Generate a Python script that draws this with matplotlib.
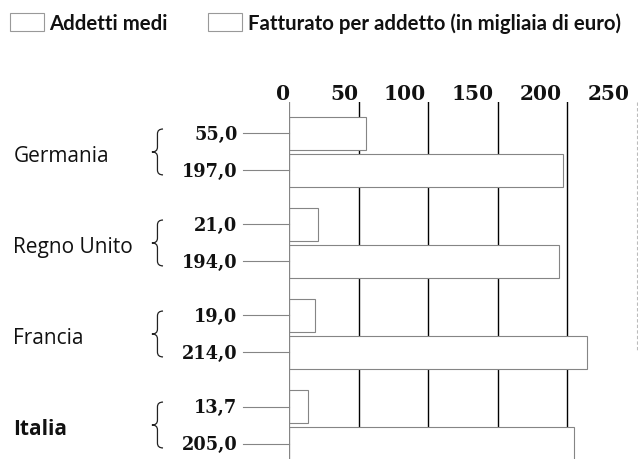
import matplotlib
matplotlib.use('Agg')
import matplotlib.pyplot as plt
from matplotlib.path import Path
from matplotlib.patches import PathPatch, Rectangle

# data
countries = ['Germania', 'Regno Unito', 'Francia', 'Italia']
addetti = [55.0, 21.0, 19.0, 13.7]
fatturato = [197.0, 194.0, 214.0, 205.0]
ticks = [0, 50, 100, 150, 200, 250]
series_labels = ['Addetti medi', 'Fatturato per addetto (in migliaia di euro)']

W, H = 638, 460
fig = plt.figure(figsize=(W / 100, H / 100), dpi=100)
fig.patch.set_facecolor('white')

# axes placed in pixel terms: x=0 at 289px, 250 at 637px; top at 103px
ax_left, ax_right, ax_top, ax_bot = 289, 637, 103, 460
ax = fig.add_axes([ax_left / W, 1 - ax_bot / H, (ax_right - ax_left) / W, (ax_bot - ax_top) / H])
ax.set_xlim(0, 250)
ax.set_ylim((ax_bot - ax_top) / 37.0, 0)
ax.axis('off')

serif = ['DejaVu Serif']
sans = ['Open Sans', 'DejaVu Sans']
legend_font = ['Lato', 'DejaVu Sans']

pitch, first, bh = 2.46, 0.85, 0.9
grey = '#858585'
ink = '#111111'

# gridlines (hidden behind white bars)
for t in ticks[1:-1]:
    ax.axvline(t, color='black', lw=1.0, zorder=1)
ax.plot([250, 250], [0, 6.7], color='#bbbbbb', lw=0.8, ls=(0, (3, 2)), zorder=1, clip_on=False)
ax.axvline(0, color=grey, lw=0.9, zorder=3)

for i, c in enumerate(countries):
    ya = first + pitch * i
    yf = ya + 1.0
    ax.barh(ya, addetti[i], height=bh, color='white', edgecolor=grey, lw=0.8, zorder=2)
    ax.barh(yf, fatturato[i], height=bh, color='white', edgecolor=grey, lw=0.8, zorder=2)

    for y, v in [(ya, addetti[i]), (yf, fatturato[i])]:
        ax.text(-37, y + 0.02, f'{v:.1f}'.replace('.', ','), ha='right', va='center',
                family=serif, fontsize=12.8, fontweight='bold', color=ink)
        ax.plot([-33, 0], [y, y], color=grey, lw=0.8, clip_on=False, zorder=3)

    # curly brace
    x0, xm, x1 = -98.5, -94.5, -90.5
    r = 0.13
    ym = (ya + yf) / 2
    top, bot = ya - 0.12, yf + 0.12
    verts = [(x1, top), (xm, top), (xm, top + r),
             (xm, ym - r),
             (xm, ym), (x0, ym),
             (xm, ym), (xm, ym + r),
             (xm, bot - r),
             (xm, bot), (x1, bot)]
    codes = [Path.MOVETO, Path.CURVE3, Path.CURVE3,
             Path.LINETO,
             Path.CURVE3, Path.CURVE3,
             Path.CURVE3, Path.CURVE3,
             Path.LINETO,
             Path.CURVE3, Path.CURVE3]
    ax.add_patch(PathPatch(Path(verts, codes), fill=False, lw=0.9, color='#222222', clip_on=False))

    ax.text(-198, ym + 0.1, c, ha='left', va='center', family=sans, fontsize=15,
            fontweight='bold' if c == 'Italia' else 'normal', color=ink)

# top tick labels, roughly right aligned on the gridlines
for t in ticks:
    ax.text(t * 0.975 + 1, -0.23, str(t), ha='right', va='center', family=serif,
            fontsize=14.5, fontweight='bold', color=ink, clip_on=False)

# legend
for bx, tx, lab in [(10, 49, series_labels[0]), (208, 248, series_labels[1])]:
    fig.patches.append(Rectangle((bx / W, 1 - 32 / H), 34 / W, 18 / H, transform=fig.transFigure,
                                 facecolor='white', edgecolor='#999999', lw=0.8))
    fig.text(tx / W, 1 - 24 / H, lab, ha='left', va='center', family=legend_font,
             fontsize=14.7, fontweight='bold', color=ink)

fig.savefig('out.png', dpi=100)
